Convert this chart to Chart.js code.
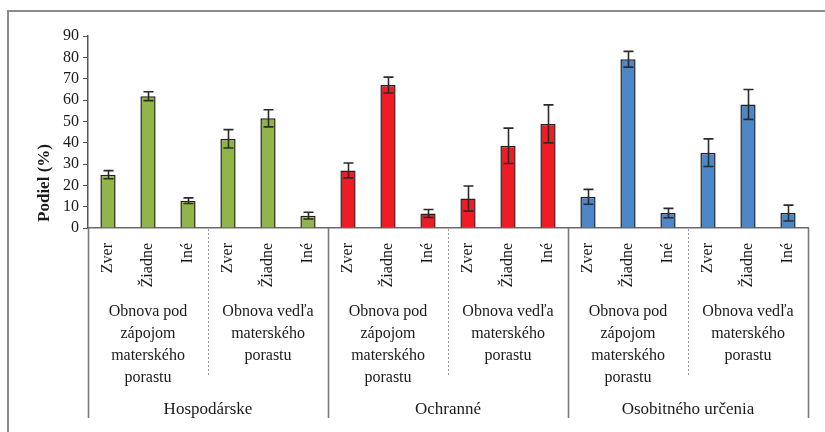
<!DOCTYPE html>
<html>
<head>
<meta charset="utf-8">
<script src="https://cdn.jsdelivr.net/npm/chart.js@4/dist/chart.umd.min.js"></script>
<style>
  html, body { margin: 0; padding: 0; background: #fff; }
  #wrap { width: 825px; height: 432px; }
</style>
</head>
<body>
<div id="wrap"><canvas id="c" width="825" height="432"></canvas></div>
<script>
// Share of regeneration damage by cause, per forest category and regeneration type
const categories = [
  'Zver', 'Žiadne', 'Iné', 'Zver', 'Žiadne', 'Iné',
  'Zver', 'Žiadne', 'Iné', 'Zver', 'Žiadne', 'Iné',
  'Zver', 'Žiadne', 'Iné', 'Zver', 'Žiadne', 'Iné'
];
const means = [
  25.0, 61.8, 12.8, 41.8, 51.4, 5.8,
  27.0, 67.0, 6.8, 13.8, 38.5, 48.8,
  14.6, 79.1, 7.0, 35.3, 57.9, 7.0
];
const errors = [
  1.9, 2.1, 1.3, 4.3, 4.0, 1.6,
  3.5, 3.7, 1.9, 5.9, 8.3, 8.9,
  3.5, 3.7, 2.2, 6.5, 7.0, 3.7
];
const yTicks = [0, 10, 20, 30, 40, 50, 60, 70, 80, 90];

// Regeneration types (each covers three causes)
const regenLabels = [
  ['Obnova pod', 'zápojom', 'materského', 'porastu'],
  ['Obnova vedľa', 'materského', 'porastu']
];
// Forest categories (each covers both regeneration types)
const forestLabels = ['Hospodárske', 'Ochranné', 'Osobitného určenia'];
const forestColors = ['#92b54a', '#ee1d25', '#4d87c7'];

const barColors = categories.map((_, i) => forestColors[Math.floor(i / 6)]);

const SERIF = '"Liberation Serif", "DejaVu Serif", serif';

const errorBars = {
  id: 'errorBars',
  afterDatasetsDraw(chart) {
    const ctx = chart.ctx;
    const y = chart.scales.y;
    const meta = chart.getDatasetMeta(0);
    ctx.save();
    ctx.strokeStyle = '#2b2b2b';
    ctx.lineWidth = 1.6;
    meta.data.forEach((bar, i) => {
      const x = Math.round(bar.x) + 0.5;
      const top = y.getPixelForValue(means[i] + errors[i]);
      const bot = y.getPixelForValue(means[i] - errors[i]);
      ctx.beginPath();
      ctx.moveTo(x, top); ctx.lineTo(x, bot);
      ctx.moveTo(x - 5, top); ctx.lineTo(x + 5, top);
      ctx.moveTo(x - 5, bot); ctx.lineTo(x + 5, bot);
      ctx.stroke();
    });
    ctx.restore();
  }
};

const groupAxis = {
  id: 'groupAxis',
  afterDraw(chart) {
    const ctx = chart.ctx;
    const xs = chart.scales.x;
    const area = chart.chartArea;
    const base = area.bottom;
    const step = xs.getPixelForValue(1) - xs.getPixelForValue(0);
    const edge = i => xs.getPixelForValue(i) - step / 2;
    ctx.save();

    // frame
    ctx.strokeStyle = '#8a8a8a';
    ctx.lineWidth = 2;
    ctx.beginPath();
    ctx.moveTo(8, 432); ctx.lineTo(8, 11); ctx.lineTo(825, 11);
    ctx.stroke();

    // cause labels, rotated
    ctx.fillStyle = '#1a1a1a';
    ctx.font = '16px ' + SERIF;
    ctx.textAlign = 'right';
    ctx.textBaseline = 'middle';
    categories.forEach((lab, i) => {
      const x = xs.getPixelForValue(i);
      ctx.save();
      ctx.translate(x, base + 15);
      ctx.rotate(-Math.PI / 2);
      ctx.fillText(lab, 0, 0);
      ctx.restore();
    });

    // dotted separators between regeneration types
    ctx.strokeStyle = '#9a9a9a';
    ctx.lineWidth = 1;
    ctx.setLineDash([2, 2]);
    for (let g = 0; g < 3; g++) {
      const x = Math.round(edge(g * 6 + 3)) + 0.5;
      ctx.beginPath();
      ctx.moveTo(x, base + 1); ctx.lineTo(x, base + 149);
      ctx.stroke();
    }
    ctx.setLineDash([]);

    // solid separators between forest categories
    ctx.strokeStyle = '#7a7a7a';
    ctx.lineWidth = 1.6;
    for (let g = 0; g <= 3; g++) {
      const x = Math.round(edge(g * 6)) + 0.5;
      ctx.beginPath();
      ctx.moveTo(x, base); ctx.lineTo(x, base + 190);
      ctx.stroke();
    }

    // regeneration type labels
    ctx.textAlign = 'center';
    ctx.textBaseline = 'middle';
    ctx.font = '16px ' + SERIF;
    for (let g = 0; g < 6; g++) {
      const cx = (edge(g * 3) + edge(g * 3 + 3)) / 2;
      regenLabels[g % 2].forEach((line, k) => {
        ctx.fillText(line, cx, base + 84 + k * 22);
      });
    }

    // forest category labels
    ctx.font = '17px ' + SERIF;
    forestLabels.forEach((lab, g) => {
      const cx = (edge(g * 6) + edge(g * 6 + 6)) / 2;
      ctx.fillText(lab, cx, base + 182);
    });

    // y axis title
    ctx.font = 'bold 17px ' + SERIF;
    ctx.save();
    ctx.translate(45, 183);
    ctx.rotate(-Math.PI / 2);
    ctx.fillText('Podiel (%)', 0, 0);
    ctx.restore();

    ctx.restore();
  }
};

new Chart(document.getElementById('c'), {
  type: 'bar',
  data: {
    labels: categories,
    datasets: [{
      data: means,
      backgroundColor: barColors,
      borderColor: '#222',
      borderWidth: 1.5,
      barPercentage: 0.38,
      categoryPercentage: 1.0
    }]
  },
  options: {
    responsive: false,
    animation: false,
    events: [],
    layout: { padding: { left: 8, top: 36, right: 17, bottom: 0 } },
    plugins: { legend: { display: false }, tooltip: { enabled: false } },
    scales: {
      x: {
        ticks: { display: false },
        grid: { display: false },
        border: { display: true, color: '#6a6a6a', width: 1.5 },
        afterFit(scale) { scale.height = 204; }
      },
      y: {
        min: yTicks[0], max: yTicks[yTicks.length - 1],
        afterBuildTicks(scale) { scale.ticks = yTicks.map(v => ({ value: v })); },
        ticks: {
          autoSkip: false,
          stepSize: 10,
          color: '#1a1a1a',
          font: { family: SERIF, size: 16 },
          padding: 4
        },
        grid: { drawOnChartArea: false, drawTicks: true, tickLength: 5, color: '#555' },
        border: { display: true, color: '#555', width: 1.5 },
        afterFit(scale) { scale.width = 80; }
      }
    }
  },
  plugins: [errorBars, groupAxis]
});
</script>
</body>
</html>
